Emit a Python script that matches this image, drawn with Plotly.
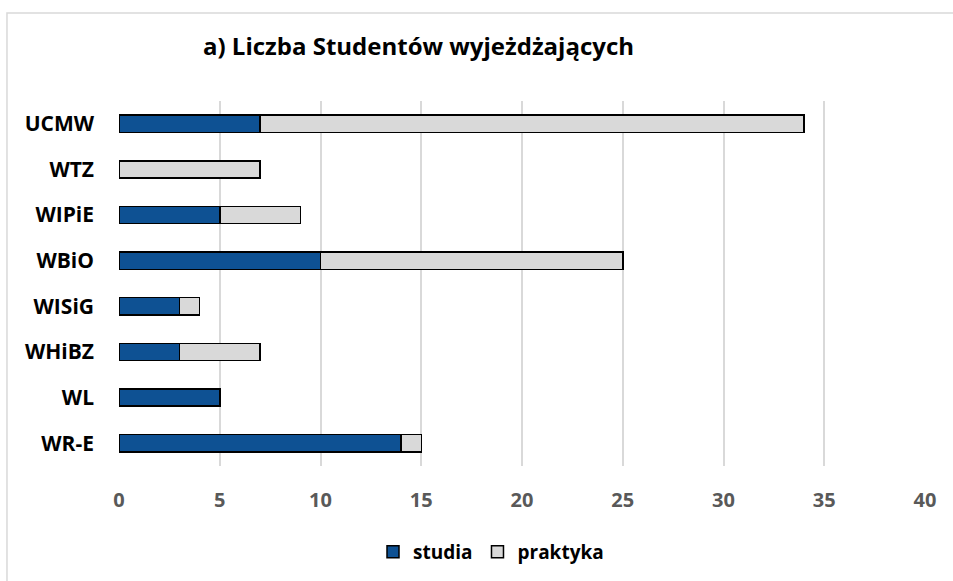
import plotly.graph_objects as go

categories = ["WR-E", "WL", "WHiBZ", "WISiG", "WBiO", "WIPiE", "WTZ", "UCMW"]
studia = [14, 5, 3, 3, 10, 5, 0, 7]
praktyka = [1, 0, 4, 1, 15, 4, 7, 27]
x_ticks = [0, 5, 10, 15, 20, 25, 30, 35, 40]

FONT = "Open Sans"
fig = go.Figure()
fig.add_trace(go.Bar(y=categories, x=studia, name="studia", orientation="h",
                     marker=dict(color="#0E5193", line=dict(color="#000000", width=1.5))))
fig.add_trace(go.Bar(y=categories, x=praktyka, name="praktyka", orientation="h",
                     marker=dict(color="#D9D9D9", line=dict(color="#000000", width=1.5))))

fig.update_layout(
    barmode="stack",
    bargap=0.62,
    width=953, height=581,
    margin=dict(l=119, r=28, t=101, b=115, autoexpand=False),
    paper_bgcolor="white", plot_bgcolor="white",
    title=dict(text="a) Liczba Studentów wyjeżdżających", x=203/953, xanchor="left",
               y=1-47/581, yanchor="middle",
               font=dict(family=FONT, size=24, color="#000000", weight="bold")),
    xaxis=dict(range=[0, 40], tickvals=x_ticks, showgrid=True, gridcolor="#D9D9D9", gridwidth=1.5,
               zeroline=False, showline=False, ticks="", automargin=False,
               tickfont=dict(family=FONT, size=20, color="#595959", weight="bold"),
               ticklabelstandoff=20),
    yaxis=dict(showgrid=False, zeroline=False, showline=False, ticks="", automargin=False,
               tickfont=dict(family=FONT, size=21, color="#000000", weight="bold"),
               ticklabelstandoff=24),
    legend=dict(orientation="h", x=(491-119)/806, xanchor="center", y=(466-552)/365, yanchor="middle",
                font=dict(family=FONT, size=19, color="#000000", weight="bold"),
                traceorder="normal", itemwidth=30),
    showlegend=True,
)
fig.add_shape(type="rect", xref="paper", yref="paper", x0=-0.139, x1=1.5, y0=-0.8, y1=1.241,
              line=dict(color="#D9D9D9", width=1.5), fillcolor="rgba(0,0,0,0)", layer="below")
fig.write_html("out.html", config={"displayModeBar": False},
               post_script="document.body.style.margin='0';document.body.style.overflow='hidden';")
